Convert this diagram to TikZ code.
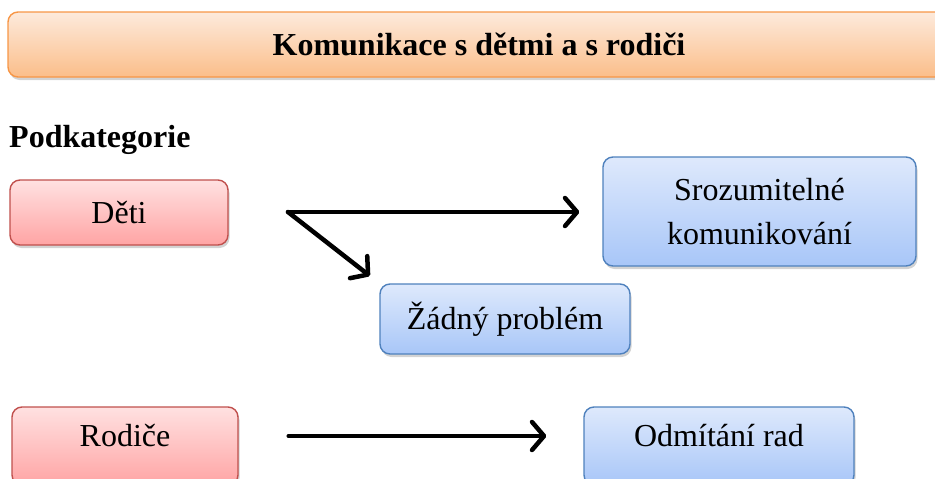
\documentclass[tikz,border=0pt]{standalone}
\usepackage{fontspec}
\setmainfont{Liberation Serif}
\usetikzlibrary{arrows.meta,shadows}
\definecolor{redbd}{HTML}{C0504D}
\definecolor{redtop}{HTML}{FFE1E1}
\definecolor{redbot}{HTML}{FFA4A4}
\definecolor{bluebd}{HTML}{4F81BD}
\definecolor{bluetop}{HTML}{DEE9FC}
\definecolor{bluebot}{HTML}{A8C6F8}
\definecolor{orbd}{HTML}{F79646}
\definecolor{ortop}{HTML}{FDEADC}
\definecolor{orbot}{HTML}{FBBE8A}
\begin{document}
\begin{tikzpicture}[x=1pt,y=1pt,
  box/.style={rectangle, rounded corners=10pt, line width=1.4pt, inner sep=0pt,
    font=\fontsize{32}{44}\selectfont, align=center,
    drop shadow={opacity=0.35,shadow xshift=1.5pt,shadow yshift=-3pt}},
  redbox/.style={box, draw=redbd, top color=redtop, bottom color=redbot},
  bluebox/.style={box, draw=bluebd, top color=bluetop, bottom color=bluebot},
  titlebox/.style={box, draw=orbd, top color=ortop, bottom color=orbot,
    font=\fontsize{32}{38}\selectfont\bfseries},
  arr/.style={line width=4.5pt, line cap=round, line join=round,
    -{Straight Barb[length=12pt,width=28pt,line cap=round,line join=round]}}]
\useasboundingbox (0,0) rectangle (935,-479);

\node[titlebox, minimum width=942pt, minimum height=65pt] (title) at (479,-44.5)
  {Komunikace s dětmi a s rodiči};
\node[anchor=west, inner sep=0pt, font=\fontsize{32}{38}\selectfont\bfseries] (podk) at (9,-140) {Podkategorie};

\node[redbox, minimum width=218pt, minimum height=65pt] (deti) at (119,-212.5) {Děti};
\node[bluebox, minimum width=313pt, minimum height=109pt] (sroz) at (759.5,-211.5)
  {Srozumitelné\\komunikování};
\node[bluebox, minimum width=250pt, minimum height=70pt] (zadny) at (505,-319) {Žádný problém};
\node[redbox, minimum width=226pt, minimum height=78pt, text depth=22pt] (rodice) at (125,-446) {Rodiče};
\node[bluebox, minimum width=270pt, minimum height=78pt, text depth=22pt] (odm) at (719,-446) {Odmítání rad};

\coordinate (fork) at (288,-212);
\draw[arr, shorten >=23pt] (fork) -- (fork -| sroz.west);
\draw[arr, shorten >=12pt] (fork) -- (zadny.north west);
\draw[arr, shorten <=50pt, shorten >=37pt] ([yshift=10pt]rodice.east) -- ([yshift=10pt]odm.west);
\end{tikzpicture}
\end{document}
